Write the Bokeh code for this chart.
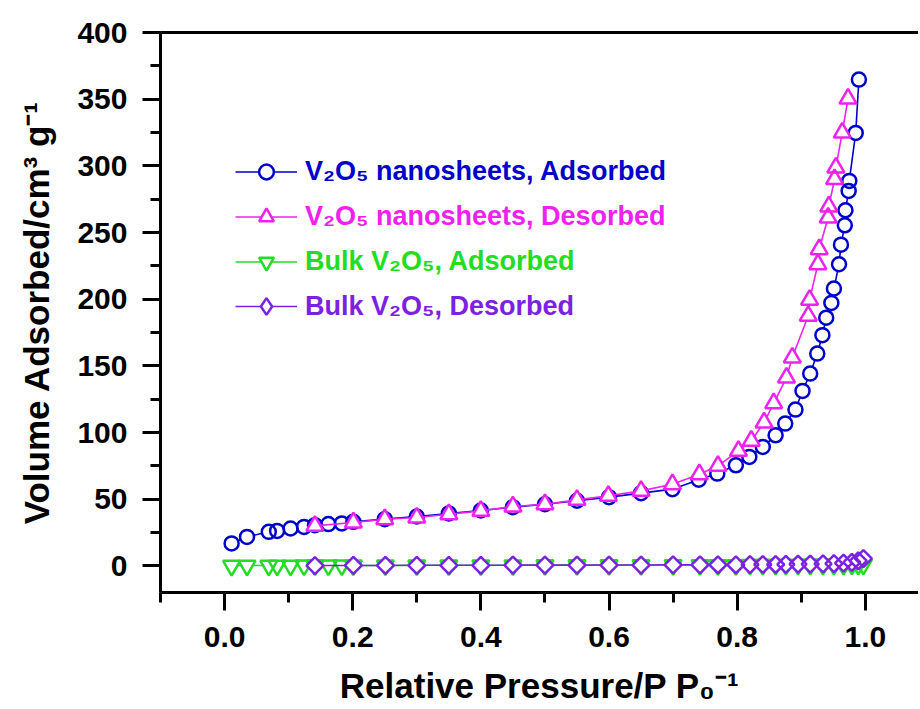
import math
from bokeh.plotting import figure
from bokeh.models import (Range1d, SingleIntervalTicker, NumeralTickFormatter, LinearAxis,
                          FixedTicker, Legend, LegendItem, ColumnDataSource)
from bokeh.embed import file_html
from bokeh.resources import INLINE

# ---------------- data ----------------
nano_ads_p = [0.011, 0.035, 0.069, 0.082, 0.103, 0.124, 0.141, 0.162, 0.183, 0.201, 0.250,
              0.300, 0.350, 0.400, 0.450, 0.500, 0.550, 0.600, 0.650, 0.699, 0.740, 0.769,
              0.798, 0.819, 0.840, 0.860, 0.875, 0.891, 0.902, 0.914, 0.925, 0.933, 0.939,
              0.947, 0.951, 0.959, 0.962, 0.968, 0.969, 0.974, 0.975, 0.985, 0.990]
nano_ads_v = [16.8, 21.7, 25.5, 26.2, 28.0, 29.2, 30.5, 31.3, 31.8, 33.0, 35.0,
              37.0, 39.3, 41.5, 44.0, 46.2, 48.8, 51.5, 54.5, 57.5, 64.6, 69.2,
              75.4, 81.7, 89.2, 97.9, 106.7, 117.2, 131.2, 144.2, 159.2, 173.0, 186.1,
              197.2, 208.0, 226.2, 240.9, 255.4, 266.7, 281.2, 288.7, 324.7, 364.7]

nano_des_p = [0.973, 0.964, 0.954, 0.952, 0.943, 0.942, 0.928, 0.926, 0.913, 0.911, 0.886,
              0.877, 0.857, 0.842, 0.822, 0.802, 0.770, 0.741, 0.699, 0.650, 0.599, 0.550,
              0.500, 0.450, 0.400, 0.350, 0.300, 0.250, 0.201, 0.141]
nano_des_v = [350.4, 324.9, 298.7, 290.0, 269.5, 261.2, 237.4, 226.2, 199.5, 187.5, 156.2,
              141.2, 121.9, 107.5, 93.8, 86.2, 75.0, 68.7, 61.2, 56.2, 52.5, 49.5,
              46.2, 44.5, 41.2, 38.7, 36.2, 34.9, 32.5, 30.0]

bulk_ads_p = [0.011, 0.035, 0.069, 0.082, 0.103, 0.124, 0.141, 0.162, 0.183, 0.201, 0.251,
              0.300, 0.350, 0.400, 0.450, 0.500, 0.550, 0.600, 0.650, 0.700, 0.742, 0.770,
              0.798, 0.820, 0.840, 0.860, 0.876, 0.895, 0.914, 0.934, 0.951, 0.966, 0.979,
              0.989, 0.997]
bulk_ads_v = [0.1, 0.2, 0.2, 0.2, 0.2, 0.3, 0.3, 0.3, 0.3, 0.3, 0.3,
              0.4, 0.4, 0.4, 0.4, 0.5, 0.5, 0.5, 0.5, 0.6, 0.6, 0.6,
              0.6, 0.7, 0.7, 0.7, 0.7, 0.7, 0.8, 0.8, 0.8, 0.8, 0.9,
              0.9, 1.0]

bulk_des_p = [0.997, 0.989, 0.979, 0.966, 0.951, 0.934, 0.914, 0.895, 0.876, 0.860, 0.840,
              0.820, 0.798, 0.770, 0.742, 0.700, 0.650, 0.600, 0.550, 0.500, 0.450, 0.400,
              0.350, 0.300, 0.251, 0.201, 0.141]
bulk_des_v = [5.4, 3.8, 2.6, 2.0, 1.7, 1.5, 1.3, 1.2, 1.1, 1.0, 1.0,
              0.9, 0.8, 0.8, 0.7, 0.7, 0.6, 0.6, 0.5, 0.5, 0.5, 0.4,
              0.4, 0.4, 0.3, 0.3, 0.2]

x_ticks_step = 0.2
y_ticks_step = 50
labels = ["V\u2082O\u2085 nanosheets, Adsorbed", "V\u2082O\u2085 nanosheets, Desorbed",
          "Bulk V\u2082O\u2085, Adsorbed", "Bulk V\u2082O\u2085, Desorbed"]
colors = ["#0000CC", "#EE22EE", "#22DD22", "#7B22E2"]

FONT = "Liberation Sans"

p = figure(width=918, height=708, output_backend="svg", toolbar_location=None,
           x_range=Range1d(-0.1, 1.083), y_range=Range1d(-20, 400),
           min_border_left=160, min_border_right=0, min_border_top=32, min_border_bottom=116)
p.outline_line_color = None
p.xgrid.grid_line_color = None
p.ygrid.grid_line_color = None
p.background_fill_color = "white"
p.border_fill_color = "white"

p.xaxis.ticker = SingleIntervalTicker(interval=x_ticks_step, num_minor_ticks=2)
p.xaxis.formatter = NumeralTickFormatter(format="0.0")
p.yaxis.ticker = SingleIntervalTicker(interval=y_ticks_step, num_minor_ticks=2)
p.xaxis.axis_label = "Relative Pressure/P P\u2080\u207b\u00b9"
p.yaxis.axis_label = "Volume Adsorbed/cm\u00b3 g\u207b\u00b9"

for ax in (p.xaxis[0], p.yaxis[0]):
    ax.axis_line_width = 3
    ax.axis_line_color = "black"
    ax.major_tick_line_width = 3
    ax.minor_tick_line_width = 3
    ax.major_tick_line_color = "black"
    ax.minor_tick_line_color = "black"
    ax.major_tick_out = 18
    ax.major_tick_in = 0
    ax.minor_tick_out = 10
    ax.minor_tick_in = 0
    ax.major_label_text_font = FONT
    ax.major_label_text_font_style = "bold"
    ax.major_label_text_font_size = "30px"
    ax.major_label_text_color = "black"
    ax.axis_label_text_font = FONT
    ax.axis_label_text_font_style = "bold"
    ax.axis_label_text_font_size = "35px"
    ax.axis_label_text_color = "black"

p.xaxis.major_label_standoff = 16
p.xaxis.axis_label_standoff = 16
p.yaxis.major_label_standoff = 15
p.yaxis.axis_label_standoff = 18

top = LinearAxis(ticker=FixedTicker(ticks=[]), axis_line_width=3, axis_line_color="black",
                 major_label_text_font_size="0px", major_tick_line_color=None,
                 minor_tick_line_color=None)
p.add_layout(top, "above")


def series(x, y, color, marker, size, angle=0.0):
    src = ColumnDataSource(dict(x=x, y=y))
    ln = p.line("x", "y", source=src, line_color=color, line_width=1.6)
    mask = p.scatter("x", "y", source=src, marker=marker, size=size, angle=angle,
                     fill_color="white", line_color=None)
    out = p.scatter("x", "y", source=src, marker=marker, size=size, angle=angle,
                    fill_color=None, line_color=color, line_width=2.5)
    return [ln, mask, out]


r_bulk_ads = series(bulk_ads_p, bulk_ads_v, colors[2], "inverted_triangle", 17)
r_bulk_des = series(bulk_des_p, bulk_des_v, colors[3], "square", 12, math.pi / 4)
r_nano_ads = series(nano_ads_p, nano_ads_v, colors[0], "circle", 14)
r_nano_des = series(nano_des_p, nano_des_v, colors[1], "triangle", 17)

# legend sample for the diamond series (legend glyphs ignore marker angle)
nan_src = ColumnDataSource(dict(x=[float("nan")], y=[float("nan")]))
leg_dia_mask = p.scatter("x", "y", source=nan_src, marker="diamond", size=16,
                         fill_color="white", line_color=None)
leg_dia = p.scatter("x", "y", source=nan_src, marker="diamond", size=16,
                    fill_color=None, line_color=colors[3], line_width=2.5)

rend = [r_nano_ads, r_nano_des, r_bulk_ads, [r_bulk_des[0], leg_dia_mask, leg_dia]]
gh = [37, 37, 37, 42]
centers = [171, 216, 261, 306]
for lab, col, rs, g, c in zip(labels, colors, rend, gh, centers):
    leg = Legend(items=[LegendItem(label=lab, renderers=rs)], location=(75, 592 - c - g / 2),
                 glyph_width=62, glyph_height=g, label_height=g, label_standoff=8,
                 padding=0, margin=0, spacing=0, border_line_color=None,
                 background_fill_alpha=0, label_text_color=col,
                 label_text_font=FONT, label_text_font_style="bold",
                 label_text_font_size="27px")
    p.add_layout(leg)

open("out.html", "w").write(file_html(p, INLINE))
